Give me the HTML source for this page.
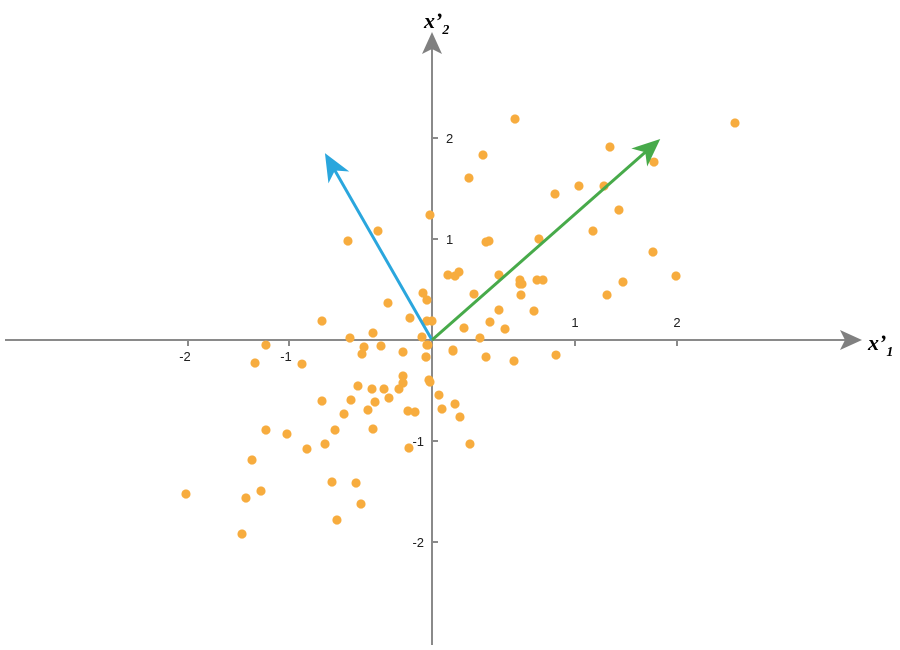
<!DOCTYPE html>
<html><head><meta charset="utf-8"><style>
body{margin:0;background:#fff}
svg{display:block;font-family:"Liberation Sans",sans-serif}
</style></head><body>
<svg id="chart" width="900" height="650" viewBox="0 0 900 650">
<defs>
<marker id="axhead" markerWidth="10" markerHeight="10" refX="8" refY="5" orient="auto" markerUnits="userSpaceOnUse"><path d="M0,0 L18,5 L0,10 L4,5 Z" transform="scale(1)" fill="#808080"/></marker>
</defs>
<g id="axes">
<line x1="5" y1="340" x2="850" y2="340" stroke="#8a8a8a" stroke-width="2"/>
<path d="M862,340 L840,330 L845,340 L840,350 Z" fill="#808080"/>
<line x1="432" y1="645" x2="432" y2="44" stroke="#8a8a8a" stroke-width="2"/>
<path d="M432,32 L422,54 L432,49 L442,54 Z" fill="#808080"/>
<text x="868" y="350" font-family="Liberation Serif,serif" font-style="italic" font-weight="bold" font-size="22">x’<tspan font-size="14" dy="6">1</tspan></text>
<text x="424" y="28" font-family="Liberation Serif,serif" font-style="italic" font-weight="bold" font-size="22">x’<tspan font-size="14" dy="6">2</tspan></text>
</g>
<g id="ticks"></g>
<g id="points"></g>
<g id="vectors"></g>
</svg>
<script>
const ox=432, oy=340, unit=101;
const xTickLabels=["-2","-1","1","2"];
const xTickPos=[188,289,575,677];
const yTickLabels=["2","1","-1","-2"];
const yTickVals=[2,1,-1,-2];
const pxX=[430,378,348,423,427,388,322,410,427,432,350,373,422,266,364,381,362,428,453,403,426,255,302,403,429,403,358,372,384,399,430,439,389,351,322,375,455,442,408,415,368,344,460,266,287,335,373,325,307,409,470,252,332,356,186,246,261,361,337,242,515,735,610,483,654,469,555,579,604,619,593,486,489,539,653,448,455,459,499,520,522,520,537,543,676,623,474,521,607,499,534,490,464,505,480,453,486,514,556,427,426];
const pxY=[215,231,241,293,300,303,321,318,321,321,338,333,337,345,347,346,354,345,351,352,357,363,364,376,380,383,386,389,389,389,382,395,398,400,401,402,404,409,411,412,410,414,417,430,434,430,429,444,449,448,444,460,482,483,494,498,491,504,520,534,119,123,147,155,162,178,194,186,186,210,231,242,241,239,252,275,276,272,275,280,284,284,280,280,276,282,294,295,295,310,311,322,328,329,338,350,357,361,355,345,357];
const xs=pxX.map(v=>+((v-ox)/unit).toFixed(3));
const ys=pxY.map(v=>+((oy-v)/unit).toFixed(3));
const vecX=[-1.06,2.26];
const vecY=[1.85,1.99];
const vecColors=["#2aa6dd","#47aa4a"];
const sx=v=>ox+v*unit, sy=v=>oy-v*unit;
const NS="http://www.w3.org/2000/svg";
const tk=document.getElementById('ticks');
xTickLabels.forEach((t,i)=>{
 const x=xTickPos[i];
 const l=document.createElementNS(NS,'line');
 l.setAttribute('x1',x);l.setAttribute('x2',x);l.setAttribute('y1',340);l.setAttribute('y2',346);
 l.setAttribute('stroke','#8a8a8a');l.setAttribute('stroke-width','2');
 
 
 tk.appendChild(l);
 const tx=document.createElementNS(NS,'text');
 tx.setAttribute('x',x-(t[0]=='-'?3:0));tx.setAttribute('y',t[0]=='-'?361:327);
 tx.setAttribute('text-anchor','middle');tx.setAttribute('font-size','13');tx.setAttribute('fill','#222');
 tx.textContent=t;
 
 
 tk.appendChild(tx);
});
yTickLabels.forEach((t,i)=>{
 const y=sy(yTickVals[i]);
 const l=document.createElementNS(NS,'line');
 l.setAttribute('x1',432);l.setAttribute('x2',438);l.setAttribute('y1',y);l.setAttribute('y2',y);
 l.setAttribute('stroke','#8a8a8a');l.setAttribute('stroke-width','2');
 
 
 tk.appendChild(l);
 const tx=document.createElementNS(NS,'text');
 tx.setAttribute('x',t[0]=='-'?424:446);tx.setAttribute('y',y+5);
 tx.setAttribute('text-anchor',t[0]=='-'?'end':'start');tx.setAttribute('font-size','13');tx.setAttribute('fill','#222');
 tx.textContent=t;
 
 
 tk.appendChild(tx);
});
const pg=document.getElementById('points');
xs.forEach((x,i)=>{
 const c=document.createElementNS(NS,'circle');
 c.setAttribute('cx',sx(x));c.setAttribute('cy',sy(ys[i]));c.setAttribute('r',4.6);
 c.setAttribute('fill','#f7ac3e');
 
 
 pg.appendChild(c);
});
const vg=document.getElementById('vectors');
vecX.forEach((vx,i)=>{
 const x2=sx(vx),y2=sy(vecY[i]);
 const dx=x2-ox,dy=y2-oy,L=Math.hypot(dx,dy),ux=dx/L,uy=dy/L,nx=-uy,ny=ux;
 const bx=x2-ux*28,by=y2-uy*28;
 const l=document.createElementNS(NS,'line');
 l.setAttribute('x1',ox);l.setAttribute('y1',oy);l.setAttribute('x2',x2-ux*14);l.setAttribute('y2',y2-uy*14);
 l.setAttribute('stroke',vecColors[i]);l.setAttribute('stroke-width','3');
 
 
 vg.appendChild(l);
 const p=document.createElementNS(NS,'path');
 const mx=x2-ux*20,my=y2-uy*20;
 p.setAttribute('d',`M${x2},${y2} L${bx+nx*12},${by+ny*12} L${mx},${my} L${bx-nx*12},${by-ny*12} Z`);
 p.setAttribute('fill',vecColors[i]);
 
 
 vg.appendChild(p);
});
</script>
</body></html>
